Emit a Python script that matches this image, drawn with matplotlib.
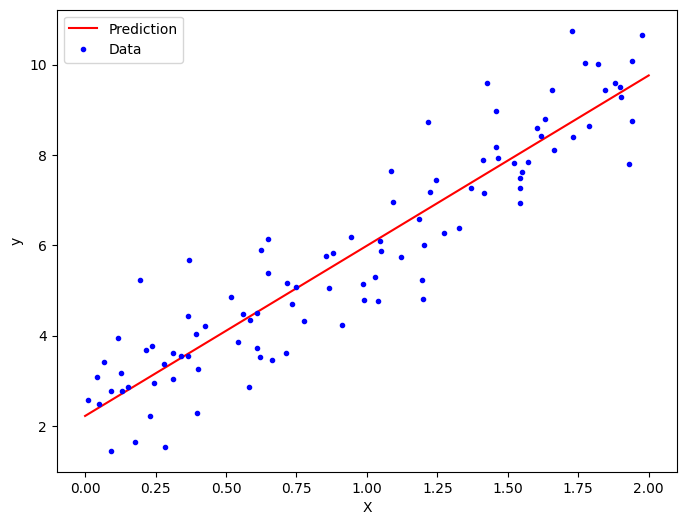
import numpy as np
import matplotlib
matplotlib.use("Agg")
import matplotlib.pyplot as plt

# data points
X = np.array([
    0.369, 0.196, 0.365, 0.426, 0.394, 0.117, 0.238, 0.217, 0.313, 0.341,
    0.366, 0.068, 0.281, 0.401, 0.043, 0.128, 0.313, 0.245, 0.151, 0.132,
    0.093, 0.011, 0.050, 0.397, 0.230, 0.178, 0.093, 0.284,
    0.944, 0.650, 0.625, 0.856, 0.880, 0.650, 0.717, 0.749, 0.866, 0.987,
    0.518, 0.990, 0.735, 0.561, 0.611, 0.586, 0.778, 0.912, 0.543, 0.611,
    0.621, 0.664, 0.714, 0.582,
    1.459, 1.218, 1.459, 1.466, 1.413, 1.523, 1.086, 1.246, 1.542, 1.542,
    1.542, 1.225, 1.370, 1.416, 1.093, 1.186, 1.274, 1.328, 1.203, 1.047,
    1.051, 1.122, 1.029, 1.040, 1.196, 1.200, 1.427,
    1.729, 1.975, 1.775, 1.821, 1.941, 1.881, 1.899, 1.846, 1.658, 1.902,
    1.633, 1.604, 1.619, 1.789, 1.941, 1.732, 1.665, 1.572, 1.551, 1.931,
])
y = np.array([
    5.68, 5.23, 4.44, 4.21, 4.04, 3.95, 3.77, 3.68, 3.62, 3.55,
    3.55, 3.42, 3.37, 3.26, 3.09, 3.17, 3.04, 2.95, 2.86, 2.77,
    2.77, 2.58, 2.49, 2.29, 2.22, 1.65, 1.45, 1.53,
    6.19, 6.14, 5.90, 5.77, 5.83, 5.39, 5.17, 5.08, 5.06, 5.14,
    4.86, 4.79, 4.70, 4.48, 4.50, 4.35, 4.33, 4.24, 3.86, 3.73,
    3.53, 3.46, 3.62, 2.86,
    8.98, 8.73, 8.18, 7.94, 7.89, 7.82, 7.65, 7.45, 7.49, 7.27,
    6.94, 7.18, 7.27, 7.16, 6.96, 6.58, 6.27, 6.39, 6.01, 6.10,
    5.88, 5.74, 5.30, 4.77, 5.23, 4.81, 9.60,
    10.75, 10.66, 10.04, 10.02, 10.08, 9.60, 9.51, 9.44, 9.44, 9.29,
    8.80, 8.60, 8.42, 8.64, 8.75, 8.40, 8.11, 7.85, 7.63, 7.80,
])

# fitted line endpoints
X_new = [0.0, 2.0]
y_predict = [2.22, 9.76]

plt.figure(figsize=(8, 6))
plt.plot(X_new, y_predict, "r-", label="Prediction")
plt.plot(X, y, "b.", label="Data")
plt.xlabel("X")
plt.ylabel("y")
plt.legend(loc="upper left")
plt.savefig("out.png", dpi=100, bbox_inches="tight")
